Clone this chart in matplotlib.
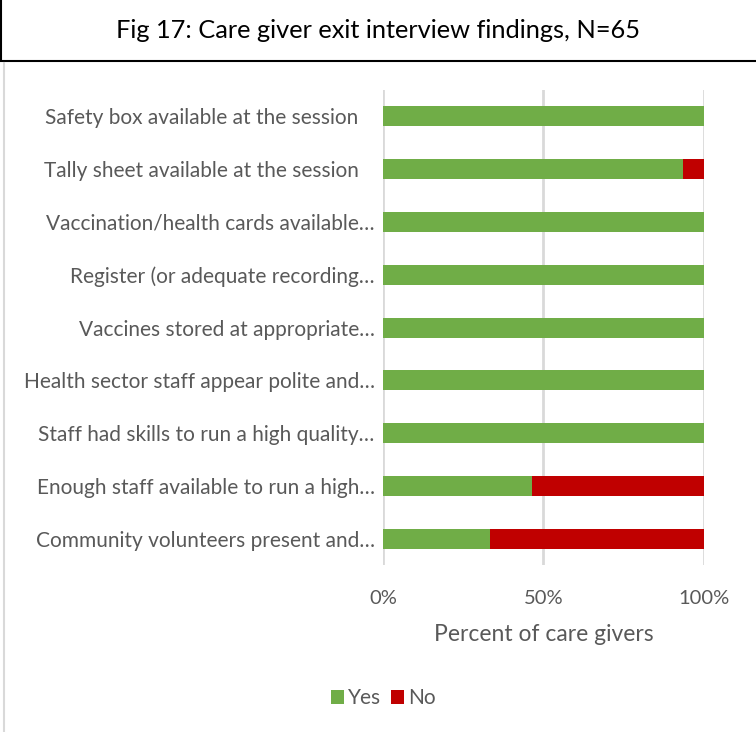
import matplotlib.pyplot as plt
from matplotlib.patches import Rectangle
from matplotlib.lines import Line2D

plt.rcParams['font.family'] = ['Lato', 'DejaVu Sans']

# survey items, top to bottom
items = [
    'Safety box available at the session   ',
    'Tally sheet available at the session   ',
    'Vaccination/health cards available…',
    'Register (or adequate recording…',
    'Vaccines stored at appropriate…',
    'Health sector staff appear polite and…',
    'Staff had skills to run a high quality…',
    'Enough staff available to run a high…',
    'Community volunteers present and…',
]
yes_pct = [100, 93.5, 100, 100, 100, 100, 100, 46.5, 33.2]
no_pct = [0, 6.5, 0, 0, 0, 0, 0, 53.5, 66.8]
ticks = [0, 50, 100]
tick_labels = ['0%', '50%', '100%']

green = '#70AD47'
red = '#C00000'
grey_txt = '#595959'

fig = plt.figure(figsize=(7.56, 7.32), dpi=100)
ax = fig.add_axes([0.5066, 0.228, 0.4246, 0.649])

pos = list(range(len(items)))
ax.barh(pos, yes_pct, height=0.38, color=green, label='Yes', zorder=3)
ax.barh(pos, no_pct, left=yes_pct, height=0.38, color=red, label='No', zorder=3)

ax.set_ylim(len(items) - 0.5, -0.5)
ax.set_xlim(0, 100)
ax.set_yticks(pos)
ax.set_yticklabels(items, fontsize=15, color=grey_txt)
ax.set_xticks(ticks)
ax.set_xticklabels(tick_labels, fontsize=14.5, color=grey_txt)
ax.tick_params(length=0)
ax.tick_params(axis='y', pad=6)
ax.tick_params(axis='x', pad=18)
ax.grid(axis='x', color='#D9D9D9', linewidth=2, zorder=0)
for s in ax.spines.values():
    s.set_visible(False)
ax.set_xlabel('Percent of care givers', fontsize=16.5, color=grey_txt, labelpad=12)

fig.legend(loc='center', bbox_to_anchor=(0.507, 1 - 698 / 732), ncol=2,
           frameon=False, fontsize=15, labelcolor=grey_txt,
           handlelength=0.65, handleheight=0.65, handletextpad=0.2, columnspacing=0.45)

# title box and outer frame
fig.add_artist(Rectangle((0.0015, 1 - 61 / 732), 1.2, 0.2, transform=fig.transFigure,
                         facecolor='white', edgecolor='black', linewidth=1.5))
fig.add_artist(Line2D([4 / 756, 4 / 756], [0, 1 - 63 / 732], transform=fig.transFigure,
                      color='#D9D9D9', linewidth=1.5))
fig.text(0.5, 1 - 31 / 732, 'Fig 17: Care giver exit interview findings, N=65',
         ha='center', va='center', fontsize=18.3, color='black')

fig.savefig('out.png', dpi=100)
